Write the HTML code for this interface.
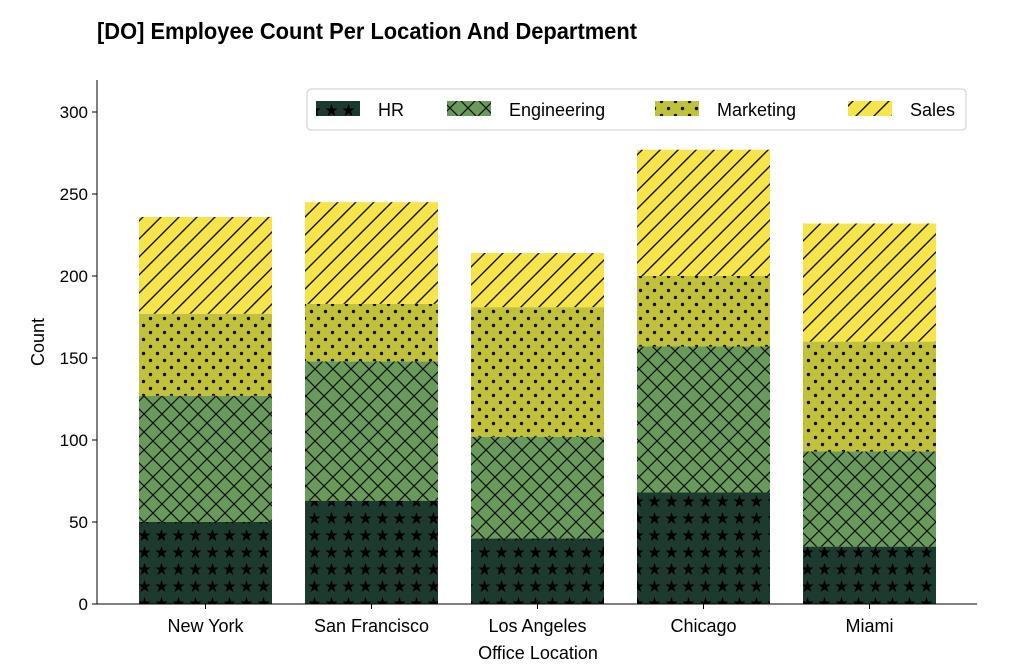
<!DOCTYPE html>
<html><head><meta charset="utf-8"><style>
html,body{margin:0;padding:0;background:#fff;}
svg{display:block;font-family:"Liberation Sans Narrow","Liberation Sans",sans-serif;}
</style></head><body>
<svg id="chart" width="1024" height="672" viewBox="0 0 1024 672" xmlns="http://www.w3.org/2000/svg">
<defs>
<pattern id="p-stars" width="17" height="17" patternUnits="userSpaceOnUse">
<rect width="17" height="17" fill="#1c3a2e"/>
<polygon points="8.5,2 10,6.5 14.5,6.5 11,9.3 12.3,14 8.5,11.2 4.7,14 6,9.3 2.5,6.5 7,6.5" fill="#000"/>
</pattern>
<pattern id="p-cross" width="18" height="18" patternUnits="userSpaceOnUse">
<rect width="18" height="18" fill="#6a9a5b"/>
<path d="M0,0L18,18M18,0L0,18M-2,16L2,20M16,-2L20,2M-2,2L2,-2M16,20L20,16" stroke="#111" stroke-width="1.2"/>
</pattern>
<pattern id="p-dots" width="14" height="14" patternUnits="userSpaceOnUse">
<rect width="14" height="14" fill="#c2c13a"/>
<circle cx="3.5" cy="3.5" r="1.7" fill="#111"/><circle cx="10.5" cy="10.5" r="1.7" fill="#111"/>
</pattern>
<pattern id="p-diag" width="18" height="18" patternUnits="userSpaceOnUse">
<rect width="18" height="18" fill="#f5e44a"/>
<path d="M0,18L18,0M-2,2L2,-2M16,20L20,16" stroke="#111" stroke-width="1.4"/>
</pattern>
</defs>
<text x="97" y="39" font-size="23" font-weight="bold" fill="#000" textLength="540" lengthAdjust="spacingAndGlyphs">[DO] Employee Count Per Location And Department</text>
<g id="bars"></g>
<g id="axes"></g>
<text x="538" y="659" font-size="18" text-anchor="middle">Office Location</text>
<text transform="translate(44,342) rotate(-90)" font-size="18" text-anchor="middle">Count</text>
<g>
<rect x="307" y="89" width="659" height="41" rx="4" fill="#fff" stroke="#ccc" stroke-width="1"/>
<rect x="316" y="101" width="44" height="15" fill="url(#p-stars)"/>
<text x="378" y="116" font-size="18">HR</text>
<rect x="447" y="101" width="44" height="15" fill="url(#p-cross)"/>
<text x="509" y="116" font-size="18">Engineering</text>
<rect x="655" y="101" width="44" height="15" fill="url(#p-dots)"/>
<text x="717" y="116" font-size="18">Marketing</text>
<rect x="848" y="101" width="44" height="15" fill="url(#p-diag)"/>
<text x="910" y="116" font-size="18">Sales</text>
</g>
</svg>
<script>
const categories = ["New York","San Francisco","Los Angeles","Chicago","Miami"];
const hrValues = [50,63,40,68,35];
const engineeringValues = [77,85,62,89,58];
const marketingValues = [50,35,79,43,67];
const salesValues = [59,62,33,77,72];
const yTicks = [0,50,100,150,200,250,300];

const NS = "http://www.w3.org/2000/svg";
const plotL = 97, plotR = 977, y0 = 604, pxPerUnit = (604-112)/300;
const step = 166, firstCenter = 205.5, barW = 133;
function yScale(v){ return y0 - v*pxPerUnit; }
function xCenter(i){ return firstCenter + i*step; }
function mk(tag, attrs){ const e=document.createElementNS(NS,tag); for(const k in attrs) e.setAttribute(k,attrs[k]); return e; }

const series = [
  {name:"hr", vals:hrValues, fill:"url(#p-stars)"},
  {name:"engineering", vals:engineeringValues, fill:"url(#p-cross)"},
  {name:"marketing", vals:marketingValues, fill:"url(#p-dots)"},
  {name:"sales", vals:salesValues, fill:"url(#p-diag)"}
];
const bars = document.getElementById("bars");
categories.forEach((c,i)=>{
  let base = 0;
  series.forEach(s=>{
    const v = s.vals[i];
    const top = yScale(base+v), bot = yScale(base);
    const r = mk("rect",{x:xCenter(i)-barW/2, y:top, width:barW, height:bot-top, fill:s.fill});
    
    
    bars.appendChild(r);
    base += v;
  });
});

const axes = document.getElementById("axes");
const yAxis = mk("line",{x1:plotL,y1:80,x2:plotL,y2:y0,stroke:"#000","stroke-width":1});


axes.appendChild(yAxis);
const xAxis = mk("line",{x1:plotL,y1:y0,x2:plotR,y2:y0,stroke:"#000","stroke-width":1});


axes.appendChild(xAxis);
yTicks.forEach(t=>{
  const y = yScale(t);
  axes.appendChild(mk("line",{x1:plotL-5,y1:y,x2:plotL,y2:y,stroke:"#000"}));
  const tx = mk("text",{x:plotL-9,y:y+6,"font-size":17,"text-anchor":"end"});
  tx.textContent = t;
  
  
  axes.appendChild(tx);
});
categories.forEach((c,i)=>{
  const x = xCenter(i);
  axes.appendChild(mk("line",{x1:x,y1:y0,x2:x,y2:y0+5,stroke:"#000"}));
  const tx = mk("text",{x:x,y:632,"font-size":18,"text-anchor":"middle"});
  tx.textContent = c;
  
  
  axes.appendChild(tx);
});
</script>
</body></html>
